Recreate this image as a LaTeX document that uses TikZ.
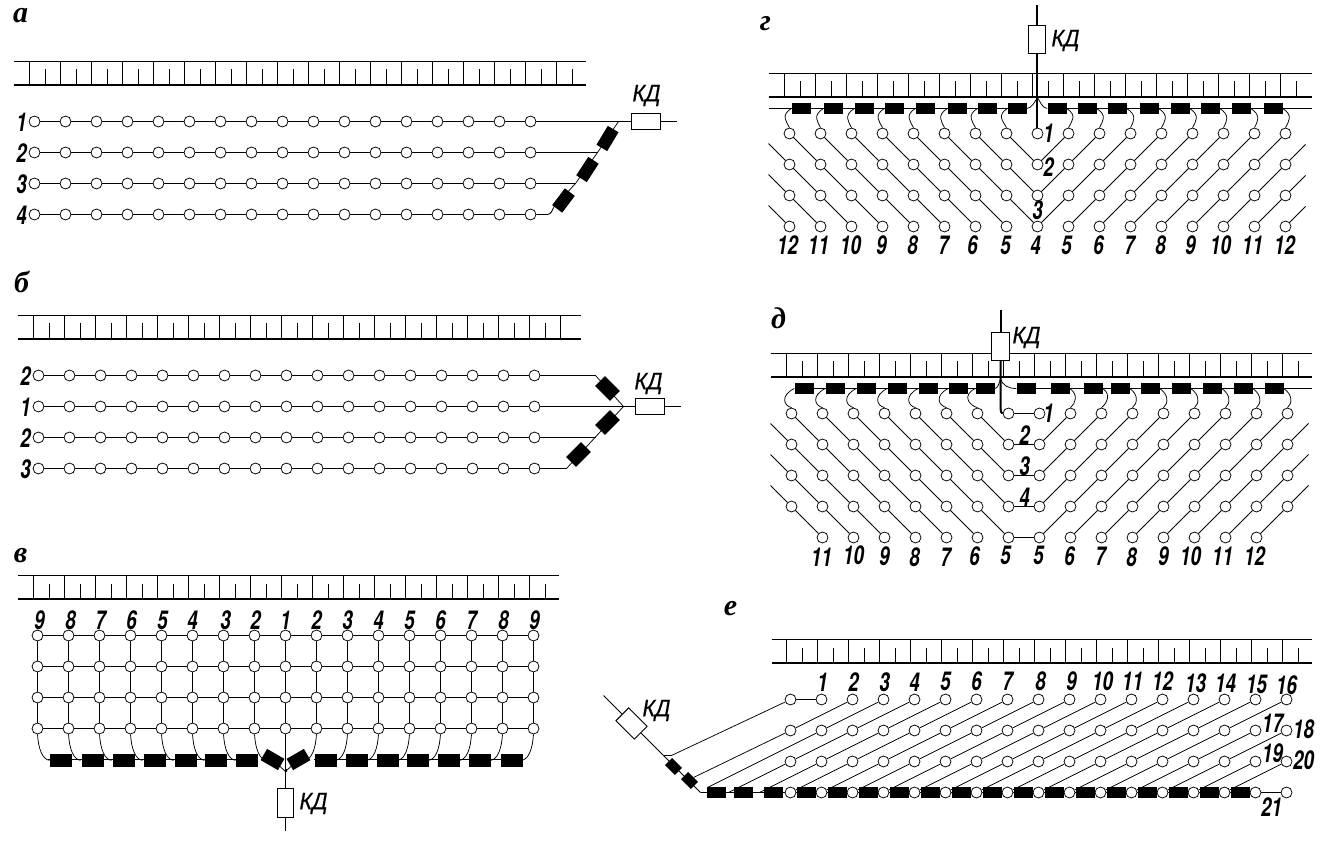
\documentclass[tikz,border=0pt]{standalone}
\usepackage{fontspec}
\setmainfont{Liberation Sans}
\newfontfamily\numfont[FakeStretch=0.72]{TeX Gyre Heros}
\newfontfamily\kdfont[FakeBold=0.5,FakeStretch=0.9]{Liberation Sans}
\newfontfamily\ttlfont{Liberation Serif}
\pgfdeclarelayer{bg}
\pgfsetlayers{bg,main}
\tikzset{
  dot/.style={circle,draw=black,fill=white,line width=0.75pt,inner sep=0pt,minimum size=11pt},
  blk/.style={rectangle,fill=black,inner sep=0pt,minimum width=19.5pt,minimum height=11.5pt},
  kdbox/.style={rectangle,draw=black,fill=white,line width=0.9pt,inner sep=0pt},
  lbl/.style={inner sep=0pt,font=\numfont\fontsize{26}{26}\selectfont\bfseries\itshape},
  kdl/.style={inner sep=0pt,font=\kdfont\fontsize{24}{24}\selectfont\itshape},
  ttl/.style={inner sep=0pt,font=\ttlfont\fontsize{30}{30}\selectfont\bfseries\itshape},
  wire/.style={line width=0.75pt},
  wiret/.style={line width=0.9pt},
  heavy/.style={line width=2pt},
}
% comb: left, right, top y, bottom y, first tall x, first short x, last k
\newcommand\combdraw[7]{%
  \draw[line width=0.95pt] (#1,#3) -- (#2,#3);
  \draw[line width=2pt] (#1,#4-0.5) -- (#2,#4-0.5);
  \foreach \k in {0,...,#7}{
    \draw[line width=0.9pt] ({#5+31*\k},#3) -- ({#5+31*\k},#4);
    \draw[line width=1.4pt] ({#6+31*\k},#3+8) -- ({#6+31*\k},#4);
  }}
\begin{document}
\begin{tikzpicture}[x=1pt,y=-1pt]
\useasboundingbox (0,0) rectangle (1342,850);
\begin{scope}[shift={(0.5,0.5)}]
%% ---------- titles
\node[ttl] (ta) at (20,15) {а};
\node[ttl] (tb) at (21,281) {б};
\node[ttl] (tv) at (20,555) {в};
\node[ttl] (tg) at (765,23) {г};
\node[ttl] (td) at (778,318) {д};
\node[ttl] (te) at (730,608) {е};
%% ---------- panel a
\foreach \r/\y in {1/121,2/152,3/183,4/214}{
  \foreach \k in {0,...,16}{\node[dot] (a\r-\k) at ({34+31*\k},\y) {};}
  \node[lbl] (al\r) at (21,\y+1) {\r};
}
\node[kdbox,minimum width=29pt,minimum height=16pt] (kda) at (645,121) {};
\node[kdl] (kdal) at (646,95) {КД};
\node[blk,minimum width=22pt,minimum height=12.5pt,rotate=59] (ab1) at (607,138) {};
\node[blk,minimum width=22pt,minimum height=12.5pt,rotate=57] (ab2) at (587,169) {};
\node[blk,minimum width=21pt,minimum height=12.5pt,rotate=53] (ab3) at (563,200) {};
\coordinate (aj1) at (618,121);
\coordinate (aj2) at (597,152);
\coordinate (aj3) at (575,183);
\coordinate (aj4) at (553,207);
\coordinate (aend) at (676,121);
\begin{pgfonlayer}{bg}
\combdraw{13}{585}{61}{85}{29}{45}{17}
\foreach \r in {1,2,3,4}{
  \foreach \k [remember=\k as \p (initially 0)] in {1,...,16}{\draw[wiret] (a\r-\p) -- (a\r-\k);}
}
\draw[wiret] (a1-16) -- (kda);
\draw[wiret] (kda) -- (aend);
\draw[wiret] (a2-16) -- (aj2);
\draw[wiret] (a3-16) -- (aj3);
\draw[wiret] (a4-16) -- (547,214) .. controls (550,214) and (552,210) .. (aj4);
\draw[wire] (aj4) -- (aj3) -- (aj2) -- (aj1);
\end{pgfonlayer}
%% ---------- panel b
\foreach \r/\y/\n in {1/375/2,2/406/1,3/437/2,4/468/3}{
  \foreach \k in {0,...,16}{\node[dot] (b\r-\k) at ({38+31*\k},\y) {};}
  \node[lbl] (bl\r) at (25,\y+1) {\n};
}
\node[kdbox,minimum width=29pt,minimum height=16pt] (kdb) at (649,406) {};
\node[kdl] (kdbl) at (648,383) {КД};
\node[blk,minimum width=21pt,minimum height=14pt,rotate=-45] (bb1) at (607,388) {};
\node[blk,minimum width=21pt,minimum height=14pt,rotate=45] (bb2) at (607,422) {};
\node[blk,minimum width=21pt,minimum height=14pt,rotate=45] (bb3) at (578,454) {};
\coordinate (bj) at (623,406);
\coordinate (bt) at (595,375);
\coordinate (bm) at (595,437);
\coordinate (bl) at (566,468);
\coordinate (bend) at (680,406);
\begin{pgfonlayer}{bg}
\combdraw{17}{580}{315}{339}{33}{49}{16}
\draw[line width=0.9pt] ({33+31*17},315) -- ({33+31*17},339);
\foreach \r in {1,2,3,4}{
  \foreach \k [remember=\k as \p (initially 0)] in {1,...,16}{\draw[wiret] (b\r-\p) -- (b\r-\k);}
}
\draw[wiret] (b1-16) -- (bt);
\draw[wire] (bt) -- (bj);
\draw[wiret] (b2-16) -- (kdb);
\draw[wiret] (kdb) -- (bend);
\draw[wiret] (b3-16) -- (bm);
\draw[wiret] (b4-16) -- (bl);
\draw[wire] (bl) -- (bj);
\end{pgfonlayer}
%% ---------- panel v
\foreach \r/\y in {1/635,2/666,3/697,4/728}{
  \foreach \k in {0,...,16}{\node[dot] (v\r-\k) at ({37+31*\k},\y) {};}
}
\foreach \k/\n/\xx in {0/9/39,1/8/70,2/7/100,3/6/131,4/5/162,5/4/192,6/3/225,7/2/255,8/1/285,9/2/316,10/3/347,11/4/378,12/5/409,13/6/440,14/7/471,15/8/503,16/9/534}{
  \node[lbl] (vl\k) at (\xx,620) {\n};
}
\foreach \i/\xx in {0/60,1/92,2/123,3/154,4/185,5/215,6/246}{
  \node[blk,minimum width=22pt,minimum height=13pt] (vb\i) at (\xx,760) {};
}
\node[blk,minimum width=20pt,minimum height=13pt,rotate=-30] (vb7) at (272,759) {};
\node[blk,minimum width=20pt,minimum height=13pt,rotate=30] (vb8) at (298,759) {};
\foreach \i/\xx in {9/325,10/356,11/387,12/417,13/448,14/479,15/511}{
  \node[blk,minimum width=22pt,minimum height=13pt] (vb\i) at (\xx,760) {};
}
\node[kdbox,minimum width=16pt,minimum height=29pt] (kdv) at (285,802) {};
\node[kdl] (kdvl) at (313,803) {КД};
\coordinate (vj) at (285,771);
\coordinate (vend) at (285,830);
\coordinate (vbl) at (47,759);
\coordinate (vbr) at (522,759);
\coordinate (vjl) at (257,759);
\coordinate (vjr) at (313,759);
\begin{pgfonlayer}{bg}
\combdraw{17}{558}{575}{599}{33}{49}{16}
\foreach \r in {1,2,3,4}{
  \foreach \k [remember=\k as \p (initially 0)] in {1,...,16}{\draw[wiret] (v\r-\p) -- (v\r-\k);}
}
\foreach \k in {0,...,16}{
  \draw[wiret] (v1-\k) -- (v2-\k);
  \draw[wiret] (v2-\k) -- (v3-\k);
  \draw[wiret] (v3-\k) -- (v4-\k);
}
\foreach \k in {0,...,7}{
  \draw[wire] (v4-\k.south) .. controls +(1,15) and +(-7,-1) .. +(12,26);
}
\foreach \k in {9,...,16}{
  \draw[wire] (v4-\k.south) .. controls +(-1,15) and +(7,-1) .. +(-12,26);
}
\draw[wiret] (vbl) -- (vjl);
\draw[wiret] (vjr) -- (vbr);
\draw[wire] (vb7.center) -- (vj);
\draw[wire] (vb8.center) -- (vj);
\draw[line width=2pt] (285,768) -- (vj);
\draw[wiret] (v4-8) -- (kdv);
\draw[wiret] (kdv) -- (vend);
\end{pgfonlayer}
%% ---------- panel g
\foreach \r/\y in {1/133,2/164,3/195,4/226}{
  \foreach \k in {0,...,16}{\node[dot] (g\r-\k) at ({789+31*\k},\y) {};}
}
\foreach \i/\xx in {0/791,1/823,2/854,3/884,4/915,5/947,6/977,7/1007,8/1047,9/1077,10/1107,11/1139,12/1170,13/1200,14/1231,15/1263}{
  \node[blk,minimum width=19pt,minimum height=11.5pt] (gb\i) at (\xx+9.5,108) {};
}
\node[kdbox,minimum width=17pt,minimum height=28pt] (kdg) at (1036,39) {};
\node[kdl] (kdgl) at (1065,40) {КД};
\node[lbl] (gn1) at (1048,133) {1};
\node[lbl] (gn2) at (1048,167) {2};
\node[lbl] (gn3) at (1037,210) {3};
\foreach \n/\xx [count=\c] in {12/787,11/818,10/850,9/881,8/912,7/943,6/972,5/1005,4/1035,5/1066,6/1098,7/1129,8/1160,9/1190,10/1220,11/1252,12/1284}{
  \node[lbl] (gt\c) at (\xx,245) {\n};
}
\coordinate (gtop) at (1036,5);
\coordinate (gjn) at (1037,97);
\coordinate (gsl2) at (768,143);\coordinate (gsl3) at (768,174);\coordinate (gsl4) at (768,205);
\coordinate (gsr2) at (1305,144);\coordinate (gsr3) at (1305,175);\coordinate (gsr4) at (1305,206);
\begin{pgfonlayer}{bg}
\combdraw{768}{1311}{73}{97}{784}{800}{16}
\draw[wiret] (768,108) -- (gb7.center);
\draw[wiret] (gb8.center) -- (1311,108);
\foreach \r [evaluate=\r as \q using int(\r-1)] in {2,3,4}{
  \foreach \k [evaluate=\k as \p using int(\k-1)] in {1,...,8}{\draw[wire] (g\r-\k) -- (g\q-\p);}
  \foreach \k [evaluate=\k as \p using int(\k+1)] in {8,...,15}{\draw[wire] (g\r-\k) -- (g\q-\p);}
  \draw[wire] (g\r-0) -- (gsl\r);
  \draw[wire] (g\r-16) -- (gsr\r);
}
\foreach \k in {0,...,7}{
  \draw[wire] (g1-\k.north) .. controls +(-3,-6) and +(-11,7) .. (gb\k.west);
}
\foreach \k [evaluate=\k as \i using int(\k-1)] in {9,...,16}{
  \draw[wire] (g1-\k.north) .. controls +(3,-6) and +(11,7) .. (gb\i.east);
}
\draw[wire] (gb7.east) .. controls +(5,0) and +(-2,3) .. (gjn);
\draw[wire] (gjn) .. controls +(2,3) and +(-5,0) .. (gb8.west);
\draw[heavy] (1036,128) -- (kdg);
\draw[heavy] (kdg) -- (gtop);
\end{pgfonlayer}
%% ---------- panel d
\foreach \r/\y in {1/413,2/444,3/475,4/506}{
  \foreach \k in {0,...,16}{\node[dot] (d\r-\k) at ({791+31*\k},\y) {};}
}
\foreach \k in {1,...,15}{\node[dot] (d5-\k) at ({791+31*\k},537) {};}
\foreach \i/\xx in {0/794,1/825,2/856,3/887,4/918,5/948,6/975,7/1016,8/1050,9/1083,10/1110,11/1140,12/1171,13/1202,14/1233,15/1264}{
  \node[blk,minimum width=19pt,minimum height=11.5pt] (db\i) at (\xx+9.5,388) {};
}
\node[kdbox,minimum width=18pt,minimum height=28pt] (kdd) at (1000,345.5) {};
\node[kdl] (kddl) at (1026,337) {КД};
\node[lbl] (dn1) at (1048,413) {1};
\node[lbl] (dn2) at (1024,435) {2};
\node[lbl] (dn3) at (1024,466) {3};
\node[lbl] (dn4) at (1024,497) {4};
\foreach \n/\xx/\yy [count=\c] in {11/821/557,10/853/555,9/884/556,8/914/557,7/945/557,6/974/556,5/1005/555,5/1038/555,6/1069/556,7/1100/556,8/1131/557,9/1163/556,10/1190/556,11/1222/556,12/1254/556}{
  \node[lbl] (dt\c) at (\xx,\yy) {\n};
}
\coordinate (dtop) at (1000,310);
\coordinate (djn) at (1000,378);
\coordinate (dsl2) at (770,423);\coordinate (dsl3) at (770,454);\coordinate (dsl4) at (770,485);
\coordinate (dsr2) at (1308,423);\coordinate (dsr3) at (1308,454);\coordinate (dsr4) at (1308,485);
\begin{pgfonlayer}{bg}
\combdraw{770}{1311}{353}{377}{786}{802}{16}
\draw[wiret] (db0.center) -- (db6.center);
\draw[wiret] (db7.center) -- (1311,388);
\foreach \r [evaluate=\r as \q using int(\r-1)] in {2,3,4,5}{
  \foreach \k [evaluate=\k as \p using int(\k-1)] in {1,...,7}{\draw[wire] (d\r-\k) -- (d\q-\p);}
  \foreach \k [evaluate=\k as \p using int(\k+1)] in {8,...,15}{\draw[wire] (d\r-\k) -- (d\q-\p);}
}
\foreach \r in {2,3,4}{
  \draw[wire] (d\r-0) -- (dsl\r);
  \draw[wire] (d\r-16) -- (dsr\r);
}
\foreach \r in {1,...,5}{\draw[wiret] (d\r-7) -- (d\r-8);}
\foreach \k [evaluate=\k as \i using int(\k)] in {0,...,6}{
  \draw[wire] (d1-\k.north) .. controls +(-8,-2) and +(-14,7) .. (db\i.west);
}
\foreach \k [evaluate=\k as \i using int(\k-1)] in {9,...,16}{
  \draw[wire] (d1-\k.north) .. controls +(5,-4) and +(9,6) .. (db\i.east);
}
\draw[wire] (db6.east) .. controls +(3,0) and +(-1,4) .. (djn);
\draw[wire] (djn) .. controls +(2,7) and +(-8,0) .. (db7.west);
\draw[heavy] (dtop) -- (kdd);
\draw[heavy] (kdd) -- (1000,408) .. controls (1000,411) and (1001,413) .. (d1-7);
\end{pgfonlayer}
%% ---------- panel e
\foreach \r/\y in {1/699,2/730,3/761,4/792}{
  \foreach \k in {0,...,16}{\node[dot] (e\r-\k) at ({790+31*\k},\y) {};}
}
\foreach \i/\xx in {0/706,1/733,2/763}{
  \node[blk,minimum width=19pt,minimum height=11pt] (el\i) at (\xx+9.5,791.5) {};
}
\foreach \k in {0,...,14}{
  \node[blk,minimum width=19pt,minimum height=11pt] (eb\k) at ({805.5+31*\k},791.5) {};
}
\node[blk,minimum width=14pt,minimum height=10pt,rotate=-45] (ed1) at (673,766) {};
\node[blk,minimum width=14pt,minimum height=10pt,rotate=-45] (ed2) at (689,780) {};
\node[kdbox,minimum width=26pt,minimum height=18pt,rotate=-45] (kde) at (631,723) {};
\node[kdl] (kdel) at (656,710) {КД};
\foreach \n/\xx/\yy in {1/822/682,2/853/682,3/884/682,4/914/682,5/945/681,6/976/681,7/1007/681,8/1040/681,9/1071/681,10/1102/681,11/1132/681,12/1162/681,13/1195/683,14/1225/683,15/1256/684,16/1286/685,17/1272/723,18/1303/729,19/1272/753,20/1303/760,21/1271/807}{
  \node[lbl] (en\n) at (\xx,\yy) {\n};
}
\coordinate (etop) at (603,695);
\coordinate (ej) at (663,755);
\coordinate (ebn) at (700,792);
\coordinate (es1) at (671,755);
\coordinate (es2) at (693,777);
\coordinate (es3) at (707,787);
\coordinate (es4) at (728,792);
\coordinate (es5) at (759,792);
\begin{pgfonlayer}{bg}
\combdraw{771}{1311}{639}{663}{786}{802}{16}
\foreach \r [evaluate=\r as \q using int(\r+1)] in {1,2,3}{
  \foreach \k [evaluate=\k as \p using int(\k-2)] in {2,...,16}{\draw[wire] (e\r-\k) -- (e\q-\p);}
}
\draw[wiret] (e1-0) -- (e1-1);
\draw[wire] (e1-0) -- (es1);
\draw[wire] (es1) -- (ej);
\draw[wire] (e2-0) -- (es2);
\draw[wire] (e2-1) -- (es3);
\draw[wire] (e3-0) -- (es4);
\draw[wire] (e3-1) -- (es5);
\draw[wire] (etop) -- (kde);
\draw[wire] (kde) -- (ej);
\draw[wire] (ej) -- (ebn);
\draw[wiret] (ebn) -- (e4-0);
\foreach \k [remember=\k as \p (initially 0)] in {1,...,15}{\draw[wiret] (e4-\p) -- (e4-\k);}
\draw[wiret] (e4-15) -- (e4-16);
\end{pgfonlayer}
\end{scope}
\end{tikzpicture}
\end{document}
